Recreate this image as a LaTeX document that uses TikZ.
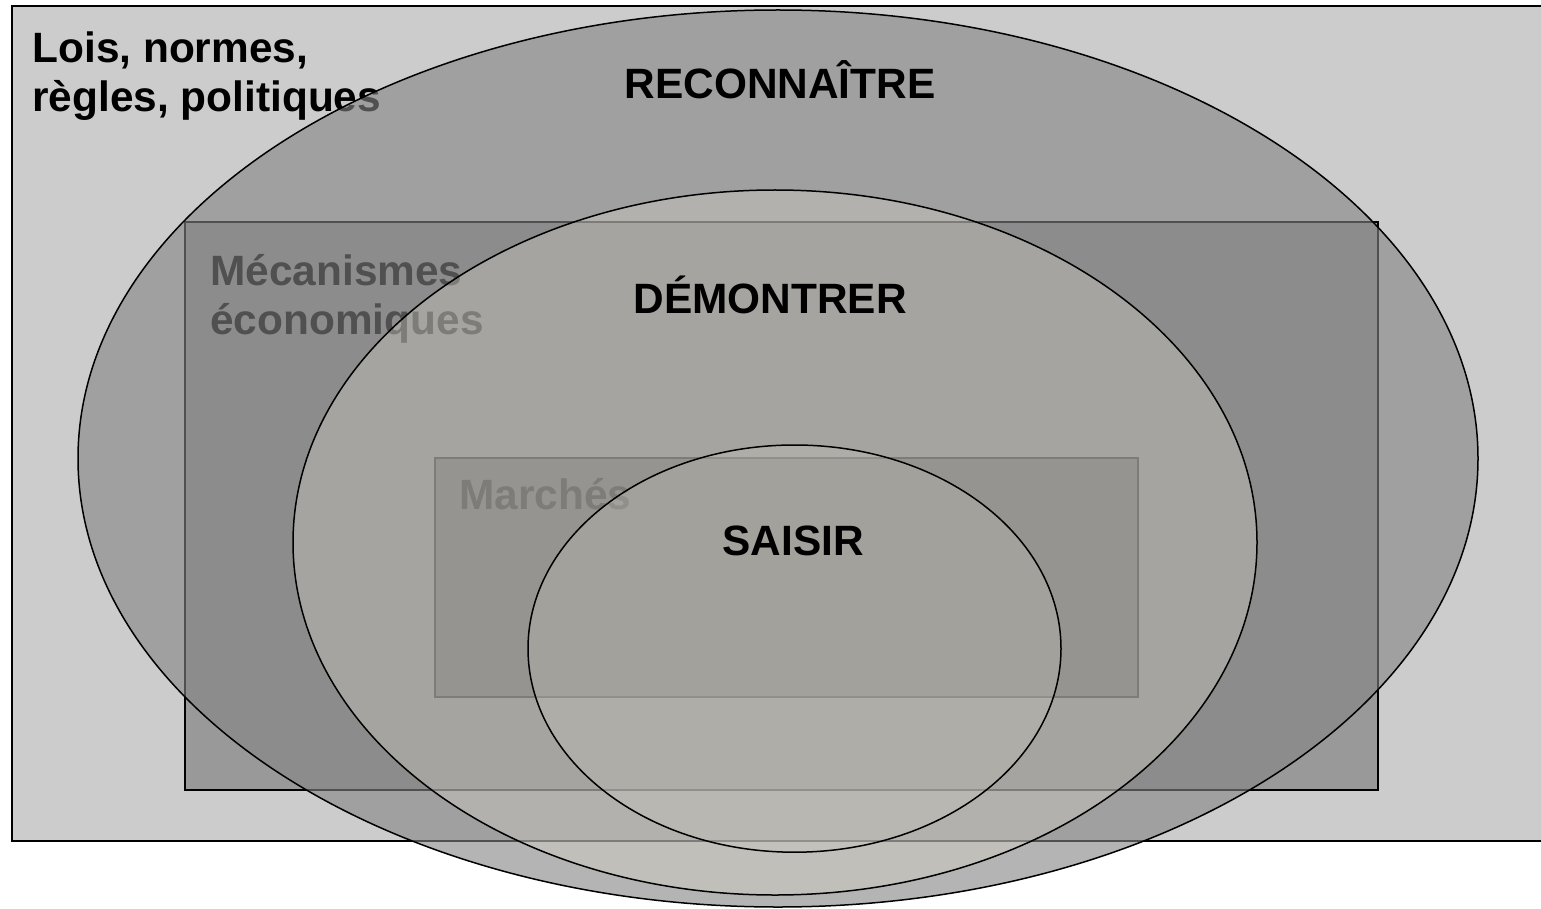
\documentclass[tikz,border=0pt]{standalone}
\usepackage{fontspec}
\setmainfont{Liberation Sans}
\begin{document}
\begin{tikzpicture}[x=0.5pt,y=-0.5pt,
  lbl/.style={font=\bfseries\fontsize{21.2}{24.5}\selectfont, inner sep=0pt, align=left},
  rectbox/.style={draw=black, line width=1pt},
  ell/.style={draw=black, line width=0.75pt}]
\useasboundingbox (0,0) rectangle (1541,909);
% outer rectangle
\path[rectbox, fill={rgb,255:red,204;green,204;blue,204}] (12,6) rectangle (1560,841);
\node[lbl, anchor=base west] (lois) at (32,112) {Lois, normes,\\règles, politiques};
% middle rectangle
\path[rectbox, fill={rgb,255:red,153;green,153;blue,153}] (185,222) rectangle (1378,790);
\node[lbl, anchor=base west] (meca) at (210,334) {Mécanismes\\économiques};
% inner rectangle
\path[rectbox, fill={rgb,255:red,93;green,93;blue,93}] (435,458) rectangle (1138,697);
\node[lbl, anchor=base west] (marches) at (459,509) {Marchés};
% ellipses
\path[ell, fill={rgb,255:red,132;green,132;blue,132}, fill opacity=0.608] (778,458.5) ellipse [x radius=700, y radius=448.5];
\path[ell, fill={rgb,255:red,215;green,212;blue,200}, fill opacity=0.333] (775,542.5) ellipse [x radius=482, y radius=352.5];
\path[ell, fill={rgb,255:red,205;green,203;blue,194}, fill opacity=0.25] (794.5,648.6) ellipse [x radius=266.5, y radius=203.6];
% labels
\node[lbl, anchor=base] (rec) at (780,99) {RECONNAÎTRE};
\node[lbl, anchor=base] (dem) at (770,314) {DÉMONTRER};
\node[lbl, anchor=base] (sai) at (793,555) {SAISIR};
\end{tikzpicture}
\end{document}
